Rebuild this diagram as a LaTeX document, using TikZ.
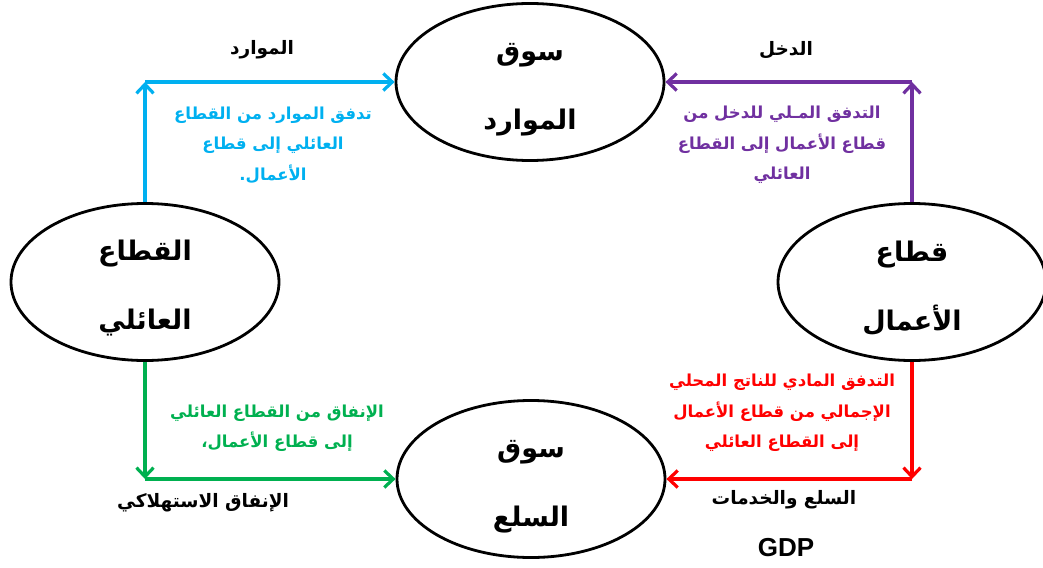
\documentclass[tikz,border=0pt]{standalone}
\usepackage{fontspec}
\usepackage{tikz}
\usetikzlibrary{shapes.geometric,arrows.meta}
\TeXXeTstate=1
\newfontfamily\arabicfont[Script=Arabic]{DejaVu Sans}
\newfontfamily\latinfont{Liberation Sans}
\definecolor{flowblue}{RGB}{0,176,240}
\definecolor{flowpurple}{RGB}{112,48,160}
\definecolor{flowred}{RGB}{255,0,0}
\definecolor{flowgreen}{RGB}{0,176,80}
\newcommand{\ar}[1]{\beginR #1\endR}
\newcommand{\twoline}[2]{\rule{0pt}{32pt}\ar{#1}\\\ar{#2}}

\begin{document}
\begin{tikzpicture}[x=1pt,y=-1pt,
    sector/.style={ellipse,draw,line width=2.8pt,minimum width=268pt,minimum height=157pt,inner sep=0pt,align=center,font=\arabicfont\bfseries\fontsize{27}{69}\selectfont},
    flow/.style={line width=3.2pt,-{Straight Barb[length=9pt,width=17pt]}},
    flowtext/.style={align=center,font=\arabicfont\bfseries\fontsize{16.5}{30.5}\selectfont},
    tag/.style={font=\arabicfont\bfseries\fontsize{18.5}{20}\selectfont}]
    \useasboundingbox (0,0) rectangle (1043,567);
    % markets and sectors
    \node[sector] (res) at (530,82) {\twoline{سوق}{الموارد}};
    \node[sector] (fam) at (145,282) {\twoline{القطاع}{العائلي}};
    \node[sector] (bus) at (912,282) {\twoline{قطاع}{الأعمال}};
    \node[sector] (goods) at (531,479) {\twoline{سوق}{السلع}};
    \coordinate (cA) at (145,82);
    \coordinate (cB) at (912,82);
    \coordinate (cC) at (912,479);
    \coordinate (cD) at (145,479);
    % flows
    \draw[flow,flowblue] (fam.north) -- (cA);
    \draw[flow,flowblue] (cA) -- (res.west);
    \draw[flow,flowpurple] (bus.north) -- (cB);
    \draw[flow,flowpurple] (cB) -- (res.east);
    \draw[flow,flowred] (bus.south) -- (cC);
    \draw[flow,flowred] (cC) -- (goods.east);
    \draw[flow,flowgreen] (fam.south) -- (cD);
    \draw[flow,flowgreen] (cD) -- (goods.west);
    % labels
    \node[tag] (lblRes) at (262,50) {\ar{الموارد}};
    \node[tag] (lblInc) at (786,50) {\ar{الدخل}};
    \node[tag] (lblGoods) at (784,500) {\ar{السلع والخدمات}};
    \node[tag] (lblSpend) at (203,503) {\ar{الإنفاق الاستهلاكي}};
    \node[font=\latinfont\bfseries\fontsize{26}{30}\selectfont] (lblGDP) at (786,548) {GDP};
    \node[flowtext,text=flowblue] (txtBlue) at (273,145) {\ar{تدفق الموارد من القطاع}\\\ar{العائلي إلى قطاع}\\\ar{الأعمال.}};
    \node[flowtext,text=flowpurple] (txtPurple) at (782,145) {\ar{التدفق المـلي للدخل من}\\\ar{قطاع الأعمال إلى القطاع}\\\ar{العائلي}};
    \node[flowtext,text=flowred] (txtRed) at (782,413) {\ar{التدفق المادي للناتج المحلي}\\\ar{الإجمالي من قطاع الأعمال}\\\ar{إلى القطاع العائلي}};
    \node[flowtext,text=flowgreen] (txtGreen) at (277,428) {\ar{الإنفاق من القطاع العائلي}\\\ar{إلى قطاع الأعمال،}};
\end{tikzpicture}
\end{document}
